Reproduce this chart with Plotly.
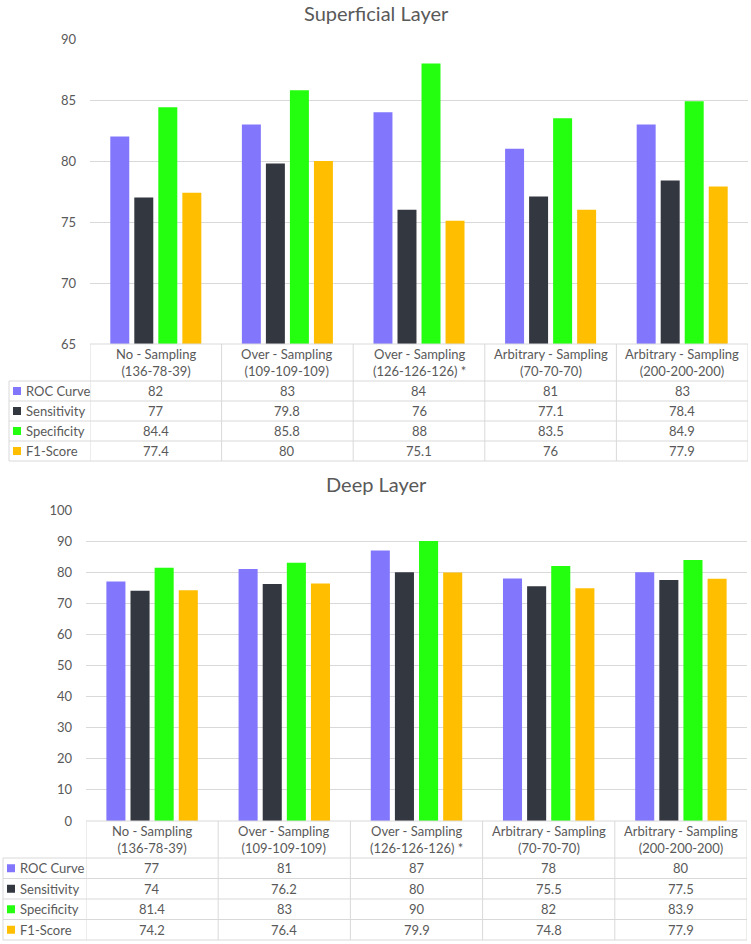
import plotly.graph_objects as go

W, H = 751, 944

categories = [
    "No - Sampling<br>(136-78-39)",
    "Over - Sampling<br>(109-109-109)",
    "Over - Sampling<br>(126-126-126) *",
    "Arbitrary - Sampling<br>(70-70-70)",
    "Arbitrary - Sampling<br>(200-200-200)",
]
metrics = ["ROC Curve", "Sensitivity", "Specificity", "F1-Score"]
colors = ["#8276FD", "#333740", "#23FF0E", "#FFBF00"]

sup_roc = [82, 83, 84, 81, 83]
sup_sens = [77, 79.8, 76, 77.1, 78.4]
sup_spec = [84.4, 85.8, 88, 83.5, 84.9]
sup_f1 = [77.4, 80, 75.1, 76, 77.9]

deep_roc = [77, 81, 87, 78, 80]
deep_sens = [74, 76.2, 80, 75.5, 77.5]
deep_spec = [81.4, 83, 90, 82, 83.9]
deep_f1 = [74.2, 76.4, 79.9, 74.8, 77.9]

FONT = "Lato"
TXT = "#595959"
GRID = "#D9D9D9"


def pxx(p):
    return p / W


def pxy(p):
    return 1 - p / H


panels = [
    dict(title="Superficial Layer", title_y=13, data=[sup_roc, sup_sens, sup_spec, sup_f1],
         x0=90, x1=748, ytop=39, ybot=344, yr=[65, 90], dtick=5, left=9,
         hbot=381, rowh=20, xa="x", ya="y"),
    dict(title="Deep Layer", title_y=484, data=[deep_roc, deep_sens, deep_spec, deep_f1],
         x0=86, x1=747, ytop=510, ybot=821, yr=[0, 100], dtick=10, left=3,
         hbot=858, rowh=20.5, xa="x2", ya="y2"),
]

fig = go.Figure()
shapes = []
annotations = []
xs = list(range(len(categories)))

for p in panels:
    for m, c, vals in zip(metrics, colors, p["data"]):
        fig.add_trace(go.Bar(x=xs, y=vals, name=m, marker=dict(color=c, line=dict(width=0)),
                             xaxis=p["xa"], yaxis=p["ya"], showlegend=False))
    # title
    annotations.append(dict(text=p["title"], x=pxx(376), y=pxy(p["title_y"]), xref="paper", yref="paper",
                            xanchor="center", yanchor="middle", showarrow=False,
                            font=dict(family=FONT, size=20, color=TXT)))
    tb = p["hbot"] + 4 * p["rowh"]
    # horizontal table lines
    shapes.append(dict(type="line", xref="paper", yref="paper", x0=pxx(p["x0"]), x1=pxx(p["x1"]),
                       y0=pxy(p["ybot"]), y1=pxy(p["ybot"]), line=dict(color=GRID, width=1)))
    for k in range(5):
        yy = pxy(p["hbot"] + k * p["rowh"])
        shapes.append(dict(type="line", xref="paper", yref="paper", x0=pxx(p["left"]), x1=pxx(p["x1"]),
                           y0=yy, y1=yy, line=dict(color=GRID, width=1)))
    # vertical lines
    for i in range(len(categories) + 1):
        shapes.append(dict(type="line", xref=p["xa"], yref="paper", x0=i - 0.5, x1=i - 0.5,
                           y0=pxy(p["ybot"]), y1=pxy(tb), line=dict(color=GRID, width=1)))
    shapes.append(dict(type="line", xref="paper", yref="paper", x0=pxx(p["left"]), x1=pxx(p["left"]),
                       y0=pxy(p["hbot"]), y1=pxy(tb), line=dict(color=GRID, width=1)))
    # header text
    for i, cat in enumerate(categories):
        annotations.append(dict(text=cat, x=i, y=pxy((p["ybot"] + p["hbot"]) / 2), xref=p["xa"], yref="paper",
                                xanchor="center", yanchor="middle", showarrow=False,
                                font=dict(family=FONT, size=13, color=TXT)))
    # rows
    for r, (m, c, vals) in enumerate(zip(metrics, colors, p["data"])):
        yc = p["hbot"] + (r + 0.5) * p["rowh"]
        shapes.append(dict(type="rect", xref="paper", yref="paper",
                           x0=pxx(p["left"] + 4), x1=pxx(p["left"] + 12),
                           y0=pxy(yc - 4), y1=pxy(yc + 4), fillcolor=c, line=dict(width=0)))
        annotations.append(dict(text=m, x=pxx(p["left"] + 15), y=pxy(yc), xref="paper", yref="paper",
                                xanchor="left", yanchor="middle", showarrow=False,
                                font=dict(family=FONT, size=13, color=TXT)))
        for i, v in enumerate(vals):
            annotations.append(dict(text=f"{v:g}", x=i, y=pxy(yc), xref=p["xa"], yref="paper",
                                    xanchor="center", yanchor="middle", showarrow=False,
                                    font=dict(family=FONT, size=13, color=TXT)))

axis_common = dict(showgrid=False, zeroline=False, showticklabels=False, range=[-0.5, len(categories) - 0.5],
                   fixedrange=True, automargin=False)
yaxis_common = dict(showgrid=True, gridcolor=GRID, gridwidth=1, zeroline=False, showline=False,
                    tickfont=dict(family=FONT, size=13, color=TXT), ticks="", ticklabelstandoff=13,
                    automargin=False)

p0, p1 = panels
fig.update_layout(
    width=W, height=H,
    margin=dict(l=0, r=0, t=0, b=0, pad=0, autoexpand=False),
    paper_bgcolor="white", plot_bgcolor="white",
    barmode="group", bargap=0.27, bargroupgap=0.21,
    showlegend=False,
    xaxis=dict(domain=[pxx(p0["x0"]), pxx(p0["x1"])], anchor="y", **axis_common),
    yaxis=dict(domain=[pxy(p0["ybot"]), pxy(p0["ytop"])], range=p0["yr"], dtick=p0["dtick"], anchor="x",
               **yaxis_common),
    xaxis2=dict(domain=[pxx(p1["x0"]), pxx(p1["x1"])], anchor="y2", **axis_common),
    yaxis2=dict(domain=[pxy(p1["ybot"]), pxy(p1["ytop"])], range=p1["yr"], dtick=p1["dtick"], anchor="x2",
                **yaxis_common),
    shapes=shapes,
    annotations=annotations,
)

fig.write_html("out.html")
